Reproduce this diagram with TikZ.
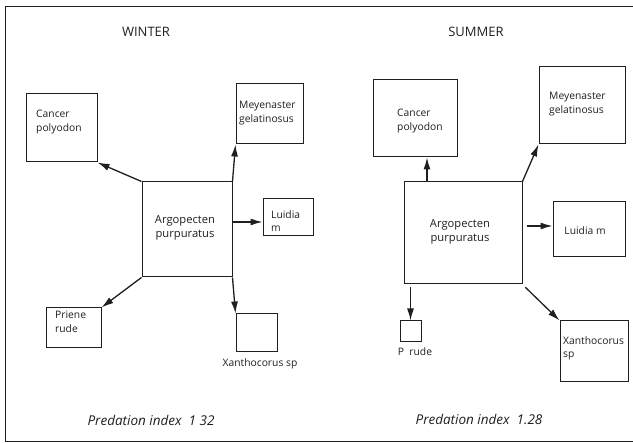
\documentclass[tikz,border=0pt]{standalone}
\usepackage{fontspec}
\setmainfont{Open Sans}
\usetikzlibrary{arrows.meta}
\definecolor{ink}{gray}{0.12}
\tikzset{
  box/.style={draw=ink, line width=1pt, inner sep=0pt, rectangle},
  arr/.style={draw=ink, line width=1.3pt, -{Latex[length=12pt,width=7pt]}},
  lbl/.style={inner sep=0pt, text=ink, font=\fontsize{10.3}{13.8}\selectfont, align=left, anchor=north west},
  clbl/.style={inner sep=0pt, text=ink, font=\fontsize{10.3}{13.8}\selectfont, align=center},
  mlbl/.style={inner sep=0pt, text=ink, font=\fontsize{11.2}{14}\selectfont, align=center},
  ttl/.style={inner sep=0pt, text=ink, font=\fontsize{13}{15}\selectfont},
  idx/.style={inner sep=0pt, text=ink, font=\fontsize{13.5}{15}\selectfont\itshape},
}
\begin{document}
\begin{tikzpicture}[x=1pt,y=-1pt]
\useasboundingbox (0,0) rectangle (633,443);
% frame
\draw[ink, line width=1.6pt] (633,6.5) -- (5.5,6.5) -- (5.5,441.5) -- (633,441.5);

% ---------- WINTER ----------
\node[ttl] (wt) at (146,32) {WINTER};
\node[box, minimum width=71pt, minimum height=68pt] (wc) at (61.5,128) {};
\node[box, minimum width=67pt, minimum height=60pt] (wm) at (269.5,114) {};
\node[box, minimum width=90pt, minimum height=95pt] (wa) at (187,229.5) {};
\node[box, minimum width=50pt, minimum height=37pt] (wl) at (288,217.5) {};
\node[box, minimum width=55pt, minimum height=40pt] (wp) at (73.5,328) {};
\node[box, minimum width=41pt, minimum height=38pt] (wx) at (256.5,333) {};

\node[lbl] (wct) at (36,110) {Cancer\\polyodon};
\node[lbl] (wmt) at (239,101) {Meyenaster\\gelatinosus};
\node[mlbl] (wat) at (185,228) {Argopecten\\purpuratus};
\node[lbl] (wlt) at (271,210) {Luidia\\m};
\node[lbl] (wpt) at (55,311) {Priene\\rude};
\node[clbl] (wxt) at (260,364) {Xanthocorus sp};
\node[idx] (wi) at (151,420) {Predation index\ \ 1 32};

\draw[arr] (wa.north west) -- (wc.south east);
\draw[arr] (wa.north east) -- (wm.south west);
\draw[arr] (wa.east |- 0,222) -- (wl.west |- 0,222);
\draw[arr] (wa.south west) -- (wp.north east);
\draw[arr] (wa.south east) -- (wx.north west);

% ---------- SUMMER ----------
\node[ttl] (st) at (476,32) {SUMMER};
\node[box, minimum width=84pt, minimum height=77pt] (sc) at (415,118.5) {};
\node[box, minimum width=86pt, minimum height=77pt] (sm) at (582,105.5) {};
\node[box, minimum width=118pt, minimum height=102pt] (sa) at (463,233) {};
\node[box, minimum width=72pt, minimum height=55pt] (sl) at (589,229.5) {};
\node[box, minimum width=21pt, minimum height=21pt] (sp) at (410.5,331.5) {};
\node[box, minimum width=68pt, minimum height=61pt] (sx) at (594,351.5) {};

\node[lbl] (sct) at (397,109) {Cancer\\polyodon};
\node[lbl] (smt) at (549,92) {Meyenaster\\gelatinosus};
\node[mlbl] (sat) at (460,232) {Argopecten\\purpuratus};
\node[clbl] (slt) at (585,231) {Luidia m};
\node[clbl] (spt) at (415,352) {P\ \ rude};
\node[lbl] (sxt) at (563,336) {Xanthocorus\\sp};
\node[idx] (si) at (479,419) {Predation index\ \ 1.28};

\draw[arr] ([xshift=12pt]sc.south |- sa.north) -- ([xshift=12pt]sc.south);
\draw[arr] (sa.north east) -- (sm.south west);
\draw[arr, shorten <=4pt] (sa.east |- 0,226) -- (sl.west |- 0,226);
\draw[arr, shorten <=3pt] (sp.north |- sa.south) -- (sp.north);
\draw[arr, shorten <=4pt] (sa.south east) -- (sx.north west);
\end{tikzpicture}
\end{document}
